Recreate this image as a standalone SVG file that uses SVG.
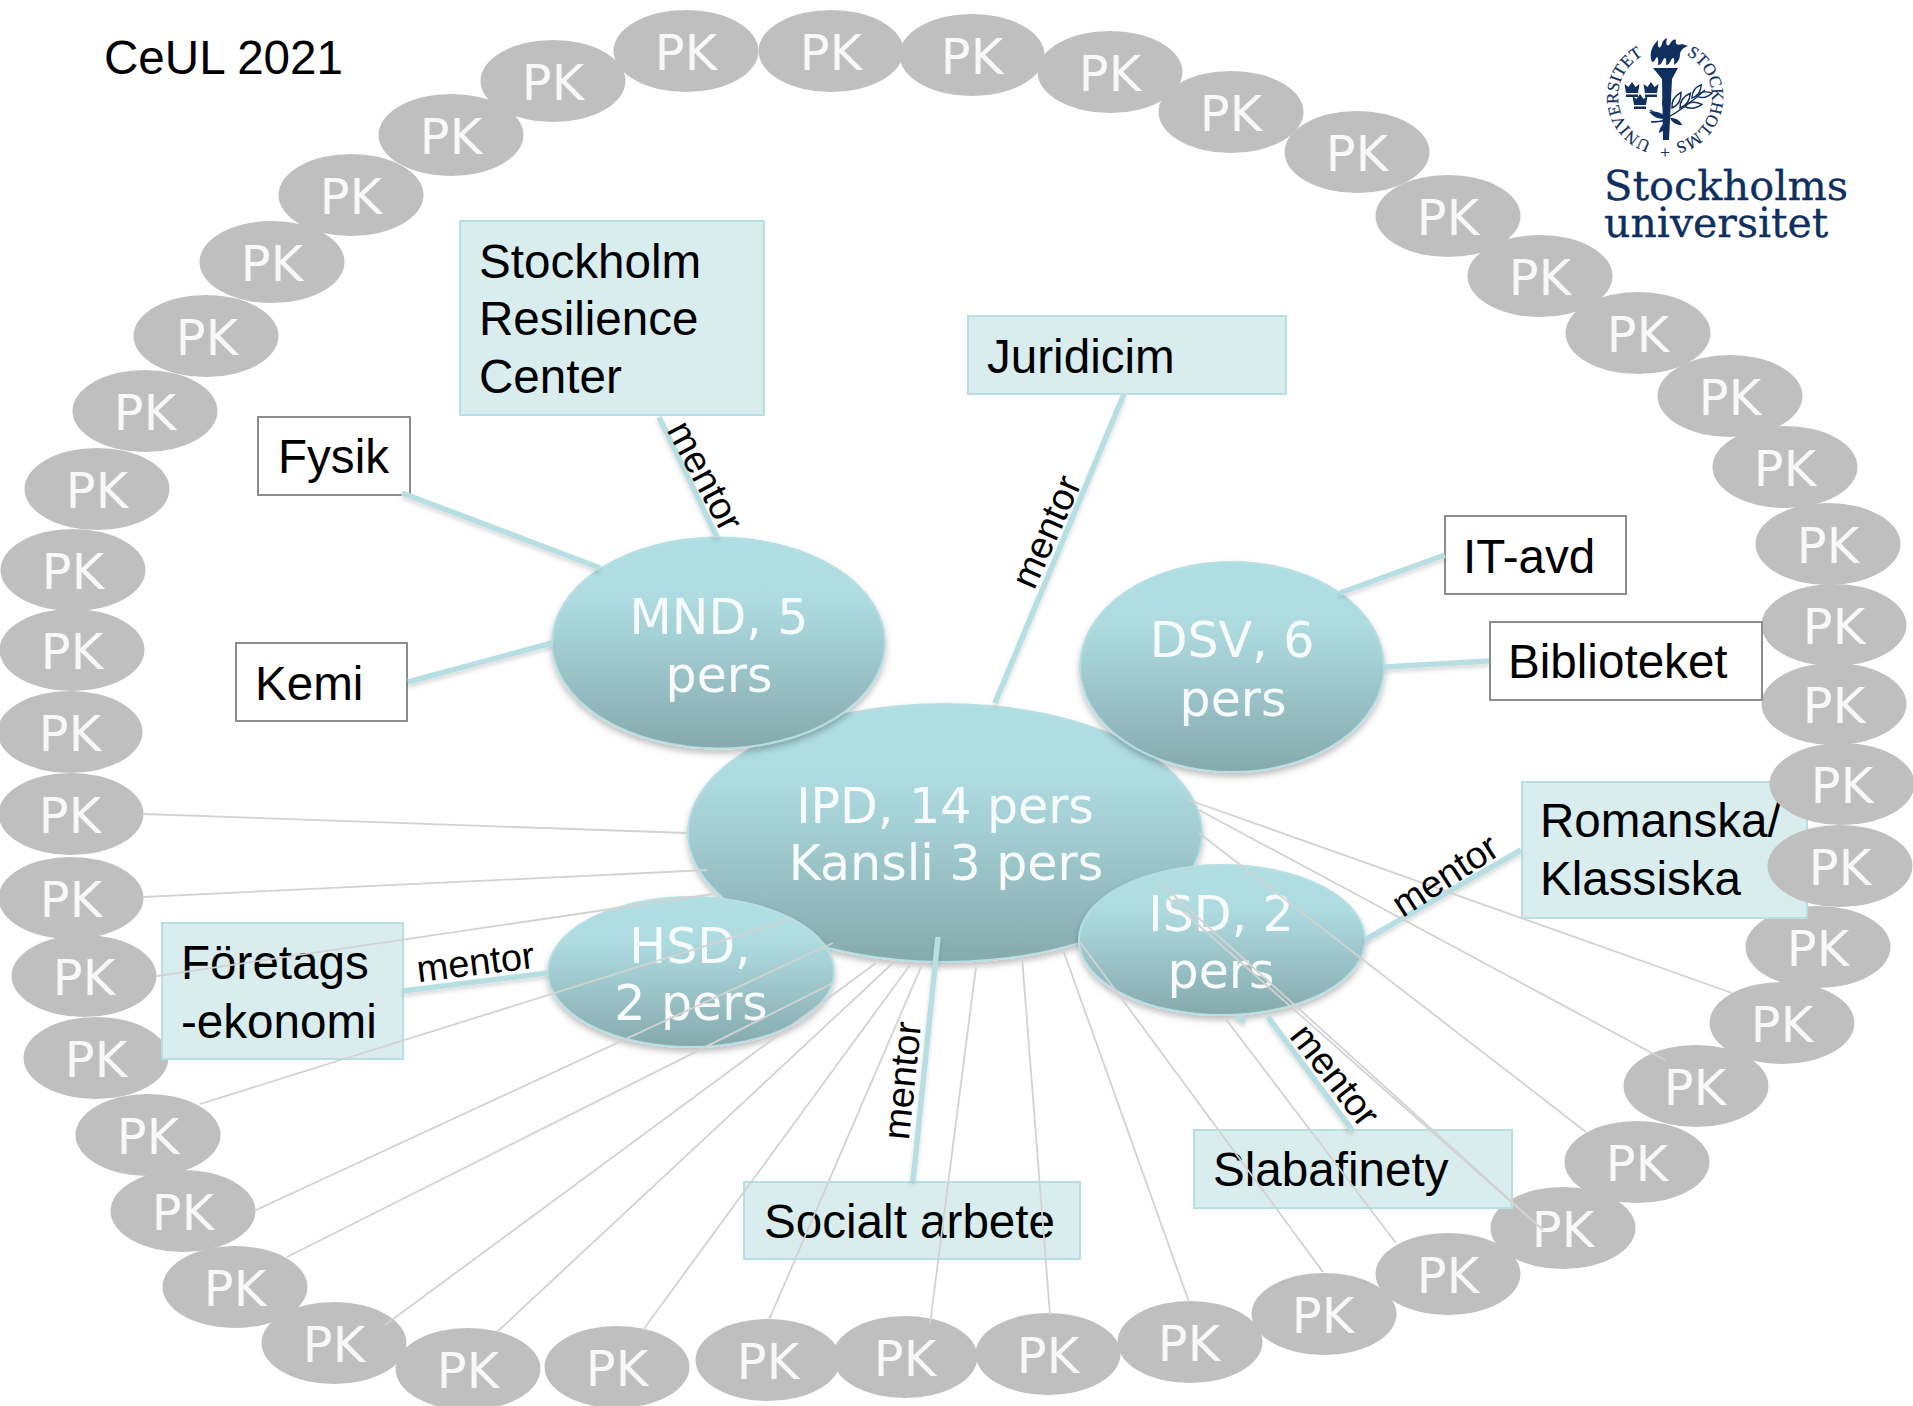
<svg xmlns="http://www.w3.org/2000/svg" width="1913" height="1406" viewBox="0 0 1913 1406">
<style>
text{font-family:"Liberation Sans",Arial,sans-serif;fill:#000}
.pk ellipse{fill:#bfbfbf;rx:72.5px;ry:41px}
.pk text{font-family:"DejaVu Sans",sans-serif;font-size:49.5px;fill:#f8f8f8;text-anchor:middle}
.big ellipse{fill:url(#g);stroke:#b7dfe3;stroke-width:2;filter:url(#s)}
.big text{font-family:"DejaVu Sans",sans-serif;font-size:49px;fill:#f7fbfb;text-anchor:middle}
.lbl{font-size:47.6px}
.tb rect{fill:#d9ecee;stroke:#b7dfe3;stroke-width:2}
.wb rect{fill:#fff;stroke:#8c8c8c;stroke-width:2}
.grey line{stroke:#d2d2d2;stroke-width:1.8}
.blue line{stroke:#b7dfe3;stroke-width:5.5}
.blue{filter:url(#s2)}
.m{font-size:38px;text-anchor:middle}
.logo{fill:#0f2f5f}
.logo text{fill:#0f2f5f;font-family:"DejaVu Serif",serif;stroke:#0f2f5f;stroke-width:.3}
.logo text.seal{font-family:"Liberation Serif",serif;font-size:17px;stroke-width:.2}
</style>
<defs>
<linearGradient id="g" x1="0" y1="0" x2="0" y2="1">
<stop offset="0" stop-color="#b0dfe3"/><stop offset=".3" stop-color="#aedbe0"/><stop offset="1" stop-color="#85aaae"/>
</linearGradient>
<filter id="s" x="-10%" y="-10%" width="120%" height="125%"><feDropShadow dx="0" dy="4" stdDeviation="3" flood-color="#000" flood-opacity=".25"/></filter>
<filter id="s2" x="-5%" y="-5%" width="110%" height="110%"><feDropShadow dx="0" dy="3" stdDeviation="2" flood-color="#000" flood-opacity=".15"/></filter>
<path id="a1" d="M1651.3 141.900A47 47 0 0 1 1656.800 50.700"/>
<path id="a2" d="M1686.300 55.100A47 47 0 0 1 1671.500 143.500"/>
<path id="crown" d="M-6 5H6L7.500-4 3.500-1 0-6-3.500-1-7.500-4ZM-6 6.500H6V9H-6Z"/>
<path id="leaf" d="M0 0Q8-6 18 0Q8 6 0 0Z"/>
</defs>
<rect width="1913" height="1406" fill="#fff"/>
<text id="title" class="lbl" x="104" y="74">CeUL 2021</text>

<g id="pk-ring" class="pk">
<g id="pk47"><ellipse cx="451" cy="135"/><text x="451" y="154">PK</text></g>
<g id="pk01"><ellipse cx="553" cy="81"/><text x="553" y="100">PK</text></g>
<g id="pk02"><ellipse cx="686" cy="51"/><text x="686" y="70">PK</text></g>
<g id="pk03"><ellipse cx="831" cy="51"/><text x="831" y="70">PK</text></g>
<g id="pk04"><ellipse cx="972" cy="55"/><text x="972" y="74">PK</text></g>
<g id="pk05"><ellipse cx="1110" cy="72"/><text x="1110" y="91">PK</text></g>
<g id="pk06"><ellipse cx="1231" cy="112"/><text x="1231" y="131">PK</text></g>
<g id="pk07"><ellipse cx="1357" cy="152"/><text x="1357" y="171">PK</text></g>
<g id="pk08"><ellipse cx="1448" cy="216"/><text x="1448" y="235">PK</text></g>
<g id="pk09"><ellipse cx="1540" cy="276"/><text x="1540" y="295">PK</text></g>
<g id="pk10"><ellipse cx="1638" cy="333"/><text x="1638" y="352">PK</text></g>
<g id="pk11"><ellipse cx="1730" cy="396"/><text x="1730" y="415">PK</text></g>
<g id="pk12"><ellipse cx="1785" cy="467"/><text x="1785" y="486">PK</text></g>
<g id="pk13"><ellipse cx="1828" cy="544"/><text x="1828" y="563">PK</text></g>
<g id="pk14"><ellipse cx="1834" cy="625"/><text x="1834" y="644">PK</text></g>
<g id="pk15"><ellipse cx="1834" cy="704"/><text x="1834" y="723">PK</text></g>
<g id="pk21"><ellipse cx="1637" cy="1162"/><text x="1637" y="1181">PK</text></g>
<g id="pk20"><ellipse cx="1696" cy="1086"/><text x="1695" y="1105">PK</text></g>
<g id="pk19"><ellipse cx="1782" cy="1023"/><text x="1782" y="1042">PK</text></g>
<g id="pk18"><ellipse cx="1818" cy="947"/><text x="1818" y="966">PK</text></g>
<g id="pk31"><ellipse cx="334" cy="1343"/><text x="334" y="1362">PK</text></g>
<g id="pk32"><ellipse cx="235" cy="1287"/><text x="235" y="1306">PK</text></g>
<g id="pk33"><ellipse cx="183" cy="1211"/><text x="183" y="1230">PK</text></g>
<g id="pk34"><ellipse cx="148" cy="1135"/><text x="148" y="1154">PK</text></g>
<g id="pk35"><ellipse cx="96" cy="1058"/><text x="96" y="1077">PK</text></g>
<g id="pk36"><ellipse cx="84" cy="976"/><text x="84" y="995">PK</text></g>
<g id="pk37"><ellipse cx="71" cy="898"/><text x="71" y="917">PK</text></g>
<g id="pk38"><ellipse cx="71" cy="814"/><text x="70" y="833">PK</text></g>
<g id="pk39"><ellipse cx="70" cy="732"/><text x="70" y="751">PK</text></g>
<g id="pk40"><ellipse cx="72" cy="650"/><text x="72" y="669">PK</text></g>
<g id="pk41"><ellipse cx="73" cy="570"/><text x="73" y="589">PK</text></g>
<g id="pk42"><ellipse cx="97" cy="489"/><text x="97" y="508">PK</text></g>
<g id="pk43"><ellipse cx="145" cy="411"/><text x="145" y="430">PK</text></g>
<g id="pk44"><ellipse cx="206" cy="336"/><text x="207" y="355">PK</text></g>
<g id="pk45"><ellipse cx="272" cy="262"/><text x="272" y="281">PK</text></g>
<g id="pk46"><ellipse cx="351" cy="195"/><text x="351" y="214">PK</text></g>
<g id="pk30"><ellipse cx="468" cy="1369"/><text x="468" y="1388">PK</text></g>
<g id="pk29"><ellipse cx="617" cy="1367"/><text x="617" y="1386">PK</text></g>
<g id="pk28"><ellipse cx="768" cy="1360"/><text x="768" y="1379">PK</text></g>
<g id="pk27"><ellipse cx="905" cy="1357"/><text x="905" y="1376">PK</text></g>
<g id="pk26"><ellipse cx="1048" cy="1354"/><text x="1048" y="1373">PK</text></g>
<g id="pk25"><ellipse cx="1190" cy="1342"/><text x="1189" y="1361">PK</text></g>
<g id="pk24"><ellipse cx="1324" cy="1314"/><text x="1323" y="1333">PK</text></g>
<g id="pk23"><ellipse cx="1448" cy="1274"/><text x="1448" y="1293">PK</text></g>
<g id="pk22"><ellipse cx="1563" cy="1228"/><text x="1563" y="1247">PK</text></g>
</g>

<g id="box-romanska" class="tb"><rect x="1522" y="782" width="285" height="136"/><text class="lbl" x="1540" y="837">Romanska/</text><text class="lbl" x="1540" y="895">Klassiska</text></g>
<g id="box-foretags" class="tb"><rect x="162" y="923" width="241" height="136"/><text class="lbl" x="181" y="979">Företags</text><text class="lbl" x="181" y="1038">-ekonomi</text></g>
<g class="pk">
<g id="pk16"><ellipse cx="1842" cy="784"/><text x="1842" y="803">PK</text></g>
<g id="pk17"><ellipse cx="1840" cy="866"/><text x="1840" y="885">PK</text></g>
</g>

<g id="box-src" class="tb"><rect x="460" y="221" width="304" height="194"/><text class="lbl" x="479" y="278">Stockholm</text><text class="lbl" x="479" y="335">Resilience</text><text class="lbl" x="479" y="393">Center</text></g>
<g id="box-juridicim" class="tb"><rect x="968" y="316" width="318" height="78"/><text class="lbl" x="987" y="373">Juridicim</text></g>
<g id="box-socialt" class="tb"><rect x="744" y="1182" width="336" height="77"/><text class="lbl" x="764" y="1238">Socialt arbete</text></g>
<g id="box-slabafinety" class="tb"><rect x="1194" y="1130" width="318" height="78"/><text class="lbl" x="1213" y="1186">Slabafinety</text></g>
<g id="box-fysik" class="wb"><rect x="258" y="417" width="152" height="78"/><text class="lbl" x="278" y="473">Fysik</text></g>
<g id="box-kemi" class="wb"><rect x="236" y="643" width="171" height="78"/><text class="lbl" x="255" y="700">Kemi</text></g>
<g id="box-it" class="wb"><rect x="1445" y="516" width="181" height="78"/><text class="lbl" x="1463" y="573">IT-avd</text></g>
<g id="box-bibliotek" class="wb"><rect x="1490" y="622" width="272" height="78"/><text class="lbl" x="1508" y="678">Biblioteket</text></g>

<g id="ipd" class="big"><ellipse cx="945" cy="833" rx="257" ry="129"/><text x="945" y="823">IPD, 14 pers</text><text x="946" y="880">Kansli 3 pers</text></g>
<g id="mnd" class="big"><ellipse cx="718.500" cy="643" rx="166.500" ry="105.500"/><text x="719" y="634">MND, 5</text><text x="719" y="692">pers</text></g>
<g id="dsv" class="big"><ellipse cx="1232" cy="667" rx="152" ry="105"/><text x="1232" y="657">DSV, 6</text><text x="1233" y="716">pers</text></g>
<g id="hsd" class="big"><ellipse cx="691" cy="972" rx="143" ry="75"/><text x="690" y="963">HSD,</text><text x="691" y="1020">2 pers</text></g>
<g id="isd" class="big"><ellipse cx="1222" cy="940" rx="143" ry="75"/><text x="1221" y="931">ISD, 2</text><text x="1221" y="988">pers</text></g>

<g id="connectors">
<g class="blue">
<line x1="659" y1="417" x2="717" y2="537"/>
<line x1="402" y1="493" x2="600" y2="568"/>
<line x1="408" y1="682" x2="552" y2="643"/>
<line x1="1124" y1="394" x2="995" y2="703"/>
<line x1="1340" y1="593" x2="1445" y2="555"/>
<line x1="1385" y1="667" x2="1489" y2="661"/>
<line x1="1365" y1="940" x2="1521" y2="850"/>
<line x1="403" y1="991" x2="548" y2="973"/>
<line x1="1268" y1="1017" x2="1352" y2="1130"/>
<line x1="938" y1="937" x2="913" y2="1181"/>
<line x1="1237" y1="1016" x2="1245" y2="1022"/>
</g>
<g class="grey">
<line x1="143" y1="814" x2="687" y2="833"/>
<line x1="143" y1="897" x2="707" y2="870"/>
<line x1="157" y1="976" x2="713" y2="894"/>
<line x1="200" y1="1104" x2="791" y2="919"/>
<line x1="254" y1="1211" x2="833" y2="943"/>
<line x1="287" y1="1257" x2="833" y2="983"/>
<line x1="385" y1="1325" x2="876" y2="963"/>
<line x1="497" y1="1332" x2="893" y2="963"/>
<line x1="643" y1="1330" x2="910" y2="965"/>
<line x1="769" y1="1320" x2="921" y2="967"/>
<line x1="930" y1="1324" x2="976" y2="967"/>
<line x1="1050" y1="1315" x2="1022" y2="957"/>
<line x1="1189" y1="1302" x2="1062" y2="947"/>
<line x1="1323" y1="1272" x2="1080" y2="942"/>
<line x1="1396" y1="1243" x2="1225" y2="1018"/>
<line x1="1160" y1="883" x2="1543" y2="1230"/>
<line x1="1168" y1="898" x2="1543" y2="1230"/>
<line x1="1199" y1="833" x2="1586" y2="1132"/>
<line x1="1199" y1="810" x2="1665" y2="1060"/>
<line x1="1189" y1="800" x2="1732" y2="993"/>
</g>
<g id="mentor-labels">
<text class="m" transform="translate(477 975) rotate(-7)">mentor</text>
<text class="m" transform="translate(694 482) rotate(62)">mentor</text>
<text class="m" transform="translate(1058 537) rotate(-66)">mentor</text>
<text class="m" transform="translate(1452 886) rotate(-33)">mentor</text>
<text class="m" transform="translate(1325 1083) rotate(52)">mentor</text>
<text class="m" transform="translate(915 1082) rotate(-84)">mentor</text>
</g>
</g>

<g id="logo" class="logo">
<text class="seal"><textPath href="#a1">UNIVERSITET</textPath></text>
<text class="seal"><textPath href="#a2">STOCKHOLMS</textPath></text>
<text class="seal" x="1665" y="158" text-anchor="middle">+</text>
<path d="M1653 68H1678L1672 79L1669 140H1663L1662 79Z"/>
<path d="M1652 62C1648 52 1654 44 1658 40C1657 48 1660 50 1662 44C1662 42 1664 39 1667 38C1665 46 1668 48 1671 42C1673 40 1674 39 1676 40C1675 44 1677 46 1682 44L1688 46C1683 48 1681 50 1680 54C1680 60 1677 63 1674 65C1675 58 1673 56 1671 60C1670 63 1668 65 1666 65C1667 58 1665 56 1663 60C1662 63 1660 65 1658 65C1659 58 1657 56 1656 58C1655 60 1654 62 1652 62Z"/>
<use href="#crown" x="1632" y="88"/><use href="#crown" x="1651" y="88"/><use href="#crown" x="1640" y="100"/>
<path d="M1667 118Q1685 108 1705 90" fill="none" stroke="#0f2f5f" stroke-width="1.300"/>
<path d="M1668 118Q1660 116 1650 110M1668 120Q1658 122 1651 122" fill="none" stroke="#0f2f5f" stroke-width="1.300"/>
<g fill="none" stroke="#0f2f5f" stroke-width="1.500">
<use href="#leaf" transform="translate(1672 108) rotate(-60)"/>
<use href="#leaf" transform="translate(1680 108) rotate(-55)"/>
<use href="#leaf" transform="translate(1684 106) rotate(-5)"/>
<use href="#leaf" transform="translate(1692 98) rotate(-55) scale(.9)"/>
<use href="#leaf" transform="translate(1696 96) rotate(-10) scale(.9)"/>
<use href="#leaf" transform="translate(1664 108) rotate(-80) scale(.8)"/>
</g>
<use href="#leaf" transform="translate(1666 118) rotate(200)"/>
<use href="#leaf" transform="translate(1668 122) rotate(130) scale(.8)"/>
<use href="#leaf" transform="translate(1670 118) rotate(30) scale(.8)"/>
<text x="1604" y="200" font-size="41.500">Stockholms</text>
<text x="1604" y="237" font-size="41">universitet</text>
</g>
</svg>
